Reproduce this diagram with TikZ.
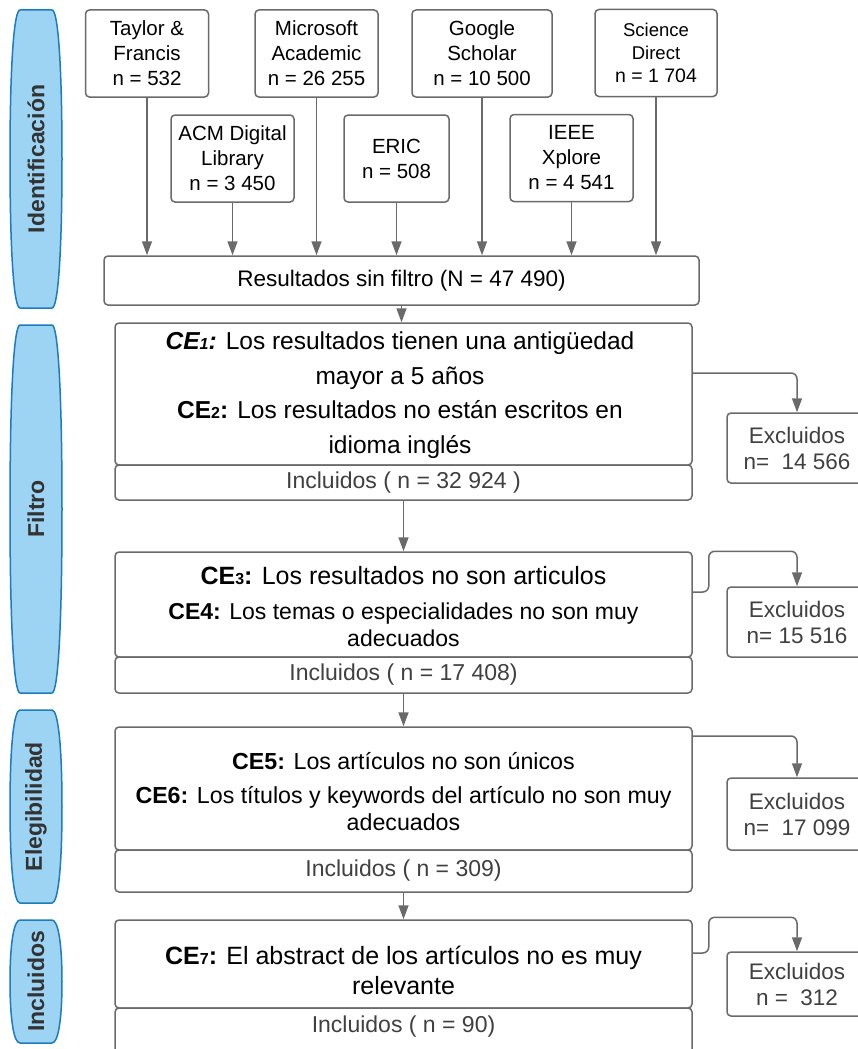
\documentclass[tikz,border=0pt]{standalone}
\usepackage{fontspec}
\setmainfont{Liberation Sans}
\usetikzlibrary{calc,arrows.meta}
\definecolor{boxgray}{HTML}{6A6A6A}
\definecolor{textgray}{HTML}{404040}
\definecolor{barblue}{HTML}{9DD4F3}
\definecolor{barline}{HTML}{1B7CC0}
\definecolor{bartext}{HTML}{333333}

\tikzset{
  srcbox/.style={draw=boxgray, line width=1.5pt, rounded corners=4pt, fill=white,
    minimum width=123pt, minimum height=87pt, align=center, inner sep=0pt,
    font=\fontsize{20.5}{25}\selectfont},
  cebox/.style={draw=boxgray, line width=1.5pt, rounded corners=4pt, fill=white,
    minimum width=577pt, inner sep=0pt},
  cetext/.style={align=center, inner sep=0pt, font=\fontsize{24.5}{34.5}\selectfont},
  inctext/.style={text=textgray, inner sep=0pt, font=\fontsize{23}{27}\selectfont},
  exbox/.style={draw=boxgray, line width=1.5pt, rounded corners=4pt, fill=white,
    minimum width=140pt, align=center, inner sep=0pt, text=textgray,
    font=\fontsize{22.5}{26}\selectfont},
  flow/.style={draw=boxgray, line width=1.5pt, -{Triangle[length=14pt,width=10pt]}},
  elbow/.style={flow, rounded corners=6pt}
}
\newcommand{\ce}[1]{\textbf{CE{\fontsize{16}{16}\selectfont #1}:}}

\begin{document}
\begin{tikzpicture}[x=1pt, y=-1pt]

  % Canvas
  \clip (0,0) rectangle (858,1049);
  \fill[white] (0,0) rectangle (858,1049);

  % ==================== PHASE BARS ====================
  \foreach \ya/\yb/\lbl/\nm in {10/308/Identificación/phid, 325/693/Filtro/phfi,
      710/903/Elegibilidad/phel, 920/1043/Incluidos/phin} {
    \filldraw[fill=barblue, draw=barline, line width=1.5pt]
      (20,\ya) -- (52,\ya)
      .. controls (58,\ya) and (62,{\ya+0.18*(\yb-\ya)}) .. (62,{(\ya+\yb)/2})
      .. controls (62,{\yb-0.18*(\yb-\ya)}) and (58,\yb) .. (52,\yb)
      -- (20,\yb)
      .. controls (14,\yb) and (10,{\yb-0.18*(\yb-\ya)}) .. (10,{(\ya+\yb)/2})
      .. controls (10,{\ya+0.18*(\yb-\ya)}) and (14,\ya) .. (20,\ya) -- cycle;
    \node[rotate=90, text=bartext, font=\fontsize{23}{26}\selectfont\bfseries]
      (\nm) at (36,{(\ya+\yb)/2}) {\lbl};
  }

  % ==================== 1. SOURCES ====================
  \node[srcbox] (tf)  at (147,53.5)  {Taylor \&\\Francis\\n = 532};
  \node[srcbox] (ms)  at (316.5,53.5) {Microsoft\\Academic\\n = 26 255};
  \node[srcbox, minimum width=140pt] (gs) at (482,53.5) {Google\\Scholar\\n = 10 500};
  \node[srcbox, minimum width=122pt, font=\fontsize{18.5}{23}\selectfont]
    (sd) at (656,53) {Science\\Direct\\{\fontsize{19.5}{23}\selectfont n = 1 704}};
  \node[srcbox] (acm) at (232.5,158.5) {ACM Digital\\Library\\n = 3 450};
  \node[srcbox, minimum width=105pt] (eric) at (396.5,158.5) {ERIC\\n = 508};
  \node[srcbox] (ieee) at (571.5,158) {IEEE\\Xplore\\n = 4 541};

  \node[srcbox, minimum width=595pt, minimum height=49pt, font=\fontsize{22.5}{27}\selectfont]
    (res) at (401.5,280.5) {Resultados sin filtro (N = 47 490)};

  \foreach \src in {tf, acm, ms, eric, gs, ieee, sd} {
    \draw[flow] (\src.south) -- (\src.south |- res.north);
  }

  % ==================== 2. FILTERS ====================
  % CE1 / CE2
  \node[cebox, minimum height=142pt] (ce1) at (403.5,394) {};
  \node[cebox, minimum height=35pt]  (in1) at (403.5,482.5) {};
  \node[cetext] (ce1t) at (400,395)
    {\textbf{\textit{CE{\fontsize{16}{16}\selectfont 1}:}} Los resultados tienen una antigüedad\\
     mayor a 5 años\\
     \ce{2} Los resultados no están escritos en\\
     idioma inglés};
  \node[inctext] (in1t) at (in1.center) {Incluidos ( n = 32 924 )};

  % CE3 / CE4
  \node[cebox, minimum height=105pt] (ce3) at (403.5,604.5) {};
  \node[cebox, minimum height=36pt]  (in3) at (403.5,675) {};
  \node[cetext, font=\fontsize{23}{27}\selectfont] (ce3t) at (403.5,607)
    {{\fontsize{25}{27}\selectfont\ce{3} Los resultados no son articulos}\\[8pt]
     \textbf{CE4:} Los temas o especialidades no son muy\\
     adecuados};
  \node[inctext] (in3t) at (in3.center) {Incluidos ( n = 17 408)};

  % CE5 / CE6
  \node[cebox, minimum height=123pt] (ce5) at (403.5,788.5) {};
  \node[cebox, minimum height=42pt]  (in5) at (403.5,871) {};
  \node[cetext, font=\fontsize{23.2}{27}\selectfont] (ce5t) at (403.5,792)
    {\textbf{CE5:} Los artículos no son únicos\\[7pt]
     \textbf{CE6:} Los títulos y keywords del artículo no son muy\\
     adecuados};
  \node[inctext] (in5t) at (in5.center) {Incluidos ( n = 309)};

  % CE7
  \node[cebox, minimum height=88pt] (ce7) at (403.5,964) {};
  \node[cebox, minimum height=56pt] (in7) at (403.5,1036) {};
  \node[cetext, font=\fontsize{25}{30}\selectfont] (ce7t) at (403.5,970)
    {\ce{7} El abstract de los artículos no es muy\\
     relevante};
  \node[inctext] (in7t) at (403.5,1027) {Incluidos ( n = 90)};

  \draw[flow] (res.south) -- (res.south |- ce1.north);
  \draw[flow] (in1.south) -- (ce3.north);
  \draw[flow] (in3.south) -- (ce5.north);
  \draw[flow] (in5.south) -- (ce7.north);

  % ==================== 3. EXCLUDED ====================
  \node[exbox, minimum height=70pt] (ex1) at (797,448) {Excluidos\\n=\ \ 14 566};
  \node[exbox, minimum height=70pt] (ex2) at (797,622) {Excluidos\\n= 15 516};
  \node[exbox, minimum height=72pt] (ex3) at (797,814) {Excluidos\\n=\ \ 17 099};
  \node[exbox, minimum height=64pt] (ex4) at (797,984) {Excluidos\\n =\ \ 312};

  \draw[elbow] ([yshift=21pt]ce1.east) -| (ex1.north);
  \draw[elbow] ([yshift=12.5pt]ce3.east) -- ++(16,0) |- ([yshift=35pt]ex2.north) -- (ex2.north);
  \draw[elbow] ([yshift=52.5pt]ce5.east) -| (ex3.north);
  \draw[elbow] ([yshift=11pt]ce7.east) -- ++(16,0) |- ([yshift=34pt]ex4.north) -- (ex4.north);

\end{tikzpicture}
\end{document}
